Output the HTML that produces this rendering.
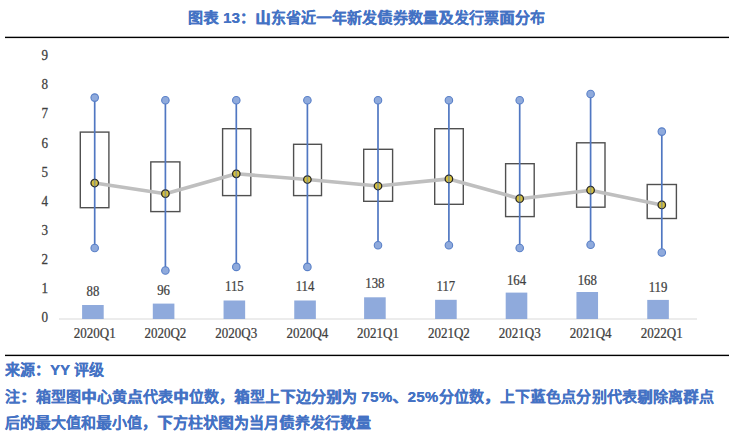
<!DOCTYPE html>
<html lang="zh-CN"><head><meta charset="utf-8">
<style>
html,body{margin:0;padding:0;background:#fff;}
body{width:736px;height:437px;overflow:hidden;position:relative;font-family:"Liberation Sans",sans-serif;}
svg{position:absolute;left:0;top:0;}
.yl,.bl,.xl{font-family:"Liberation Serif",serif;fill:#404040;text-anchor:middle;stroke:#404040;stroke-width:0.25px;}
.yl{font-size:13.5px;}
.bl{font-size:14.2px;}
.xl{font-size:14px;}
.t{position:absolute;white-space:nowrap;color:#4472C4;font-weight:bold;font-size:15px;line-height:15px;text-shadow:0.25px 0 0 #4472C4;}
</style></head><body>
<svg width="736" height="437" viewBox="0 0 736 437">
<rect x="5" y="36.7" width="724" height="1.4" fill="#000"/>
<rect x="5" y="354.7" width="724" height="1.4" fill="#000"/>
<rect x="59" y="318.5" width="638" height="1" fill="#D9D9D9"/>
<text transform="translate(44.8 322.10) scale(0.97 1.04)" class="yl">0</text>
<text transform="translate(44.8 293.01) scale(0.97 1.04)" class="yl">1</text>
<text transform="translate(44.8 263.92) scale(0.97 1.04)" class="yl">2</text>
<text transform="translate(44.8 234.83) scale(0.97 1.04)" class="yl">3</text>
<text transform="translate(44.8 205.74) scale(0.97 1.04)" class="yl">4</text>
<text transform="translate(44.8 176.65) scale(0.97 1.04)" class="yl">5</text>
<text transform="translate(44.8 147.56) scale(0.97 1.04)" class="yl">6</text>
<text transform="translate(44.8 118.47) scale(0.97 1.04)" class="yl">7</text>
<text transform="translate(44.8 89.38) scale(0.97 1.04)" class="yl">8</text>
<text transform="translate(44.8 60.29) scale(0.97 1.04)" class="yl">9</text>
<rect x="82.10" y="305.0" width="21.6" height="14.0" fill="#8FAADC"/>
<text transform="translate(92.90 295.70) scale(0.9 1)" class="bl">88</text>
<text transform="translate(94.70 338.0) scale(0.93 1)" class="xl">2020Q1</text>
<rect x="152.80" y="303.6" width="21.6" height="15.4" fill="#8FAADC"/>
<text transform="translate(163.60 294.60) scale(0.9 1)" class="bl">96</text>
<text transform="translate(165.40 338.0) scale(0.93 1)" class="xl">2020Q2</text>
<rect x="223.55" y="300.5" width="21.6" height="18.5" fill="#8FAADC"/>
<text transform="translate(234.35 291.00) scale(0.9 1)" class="bl">115</text>
<text transform="translate(236.30 338.0) scale(0.93 1)" class="xl">2020Q3</text>
<rect x="294.25" y="300.5" width="21.6" height="18.5" fill="#8FAADC"/>
<text transform="translate(305.05 291.00) scale(0.9 1)" class="bl">114</text>
<text transform="translate(307.40 338.0) scale(0.93 1)" class="xl">2020Q4</text>
<rect x="364.10" y="297.3" width="21.6" height="21.7" fill="#8FAADC"/>
<text transform="translate(374.90 287.80) scale(0.9 1)" class="bl">138</text>
<text transform="translate(378.00 338.0) scale(0.93 1)" class="xl">2021Q1</text>
<rect x="435.10" y="299.8" width="21.6" height="19.2" fill="#8FAADC"/>
<text transform="translate(445.90 291.20) scale(0.9 1)" class="bl">117</text>
<text transform="translate(448.90 338.0) scale(0.93 1)" class="xl">2021Q2</text>
<rect x="505.70" y="292.6" width="21.6" height="26.4" fill="#8FAADC"/>
<text transform="translate(516.50 285.20) scale(0.9 1)" class="bl">164</text>
<text transform="translate(519.70 338.0) scale(0.93 1)" class="xl">2021Q3</text>
<rect x="576.45" y="292.0" width="21.6" height="27.0" fill="#8FAADC"/>
<text transform="translate(587.25 285.00) scale(0.9 1)" class="bl">168</text>
<text transform="translate(590.60 338.0) scale(0.93 1)" class="xl">2021Q4</text>
<rect x="647.25" y="299.9" width="21.6" height="19.1" fill="#8FAADC"/>
<text transform="translate(658.05 291.80) scale(0.9 1)" class="bl">119</text>
<text transform="translate(661.80 338.0) scale(0.93 1)" class="xl">2022Q1</text>
<rect x="80.3" y="132.1" width="28.6" height="75.6" fill="none" stroke="#505050" stroke-width="1.4"/>
<rect x="150.8" y="161.9" width="29.1" height="49.7" fill="none" stroke="#505050" stroke-width="1.4"/>
<rect x="222.6" y="128.7" width="28.2" height="66.9" fill="none" stroke="#505050" stroke-width="1.4"/>
<rect x="293.6" y="144.3" width="27.9" height="51.3" fill="none" stroke="#505050" stroke-width="1.4"/>
<rect x="363.7" y="149.3" width="28.9" height="52.0" fill="none" stroke="#505050" stroke-width="1.4"/>
<rect x="434.7" y="128.7" width="28.6" height="75.6" fill="none" stroke="#505050" stroke-width="1.4"/>
<rect x="505.6" y="163.7" width="28.6" height="52.9" fill="none" stroke="#505050" stroke-width="1.4"/>
<rect x="576.6" y="142.8" width="28.4" height="64.4" fill="none" stroke="#505050" stroke-width="1.4"/>
<rect x="647.2" y="184.5" width="29.2" height="34.0" fill="none" stroke="#505050" stroke-width="1.4"/>
<polyline points="94.7,183.0 165.4,193.7 236.3,173.8 307.4,179.5 378.0,186.0 448.9,178.9 519.7,198.7 590.6,190.2 661.8,204.9" fill="none" stroke="#BFBFBF" stroke-width="3.6" stroke-linejoin="round"/>
<line x1="94.7" y1="97.6" x2="94.7" y2="248.0" stroke="#5077C2" stroke-width="1.7"/>
<line x1="165.4" y1="100.2" x2="165.4" y2="270.5" stroke="#5077C2" stroke-width="1.7"/>
<line x1="236.3" y1="100.2" x2="236.3" y2="266.9" stroke="#5077C2" stroke-width="1.7"/>
<line x1="307.4" y1="100.2" x2="307.4" y2="266.9" stroke="#5077C2" stroke-width="1.7"/>
<line x1="378.0" y1="100.2" x2="378.0" y2="245.3" stroke="#5077C2" stroke-width="1.7"/>
<line x1="448.9" y1="100.2" x2="448.9" y2="245.3" stroke="#5077C2" stroke-width="1.7"/>
<line x1="519.7" y1="100.2" x2="519.7" y2="248.0" stroke="#5077C2" stroke-width="1.7"/>
<line x1="590.6" y1="94.0" x2="590.6" y2="244.8" stroke="#5077C2" stroke-width="1.7"/>
<line x1="661.8" y1="131.6" x2="661.8" y2="252.5" stroke="#5077C2" stroke-width="1.7"/>
<circle cx="94.7" cy="183.0" r="3.75" fill="#D6C03C" stroke="#262626" stroke-width="1.25"/>
<line x1="94.7" y1="178.6" x2="94.7" y2="187.4" stroke="#5077C2" stroke-opacity="0.5" stroke-width="1.7"/>
<circle cx="165.4" cy="193.7" r="3.75" fill="#D6C03C" stroke="#262626" stroke-width="1.25"/>
<line x1="165.4" y1="189.3" x2="165.4" y2="198.1" stroke="#5077C2" stroke-opacity="0.5" stroke-width="1.7"/>
<circle cx="236.3" cy="173.8" r="3.75" fill="#D6C03C" stroke="#262626" stroke-width="1.25"/>
<line x1="236.3" y1="169.4" x2="236.3" y2="178.2" stroke="#5077C2" stroke-opacity="0.5" stroke-width="1.7"/>
<circle cx="307.4" cy="179.5" r="3.75" fill="#D6C03C" stroke="#262626" stroke-width="1.25"/>
<line x1="307.4" y1="175.1" x2="307.4" y2="183.9" stroke="#5077C2" stroke-opacity="0.5" stroke-width="1.7"/>
<circle cx="378.0" cy="186.0" r="3.75" fill="#D6C03C" stroke="#262626" stroke-width="1.25"/>
<line x1="378.0" y1="181.6" x2="378.0" y2="190.4" stroke="#5077C2" stroke-opacity="0.5" stroke-width="1.7"/>
<circle cx="448.9" cy="178.9" r="3.75" fill="#D6C03C" stroke="#262626" stroke-width="1.25"/>
<line x1="448.9" y1="174.5" x2="448.9" y2="183.3" stroke="#5077C2" stroke-opacity="0.5" stroke-width="1.7"/>
<circle cx="519.7" cy="198.7" r="3.75" fill="#D6C03C" stroke="#262626" stroke-width="1.25"/>
<line x1="519.7" y1="194.3" x2="519.7" y2="203.1" stroke="#5077C2" stroke-opacity="0.5" stroke-width="1.7"/>
<circle cx="590.6" cy="190.2" r="3.75" fill="#D6C03C" stroke="#262626" stroke-width="1.25"/>
<line x1="590.6" y1="185.8" x2="590.6" y2="194.6" stroke="#5077C2" stroke-opacity="0.5" stroke-width="1.7"/>
<circle cx="661.8" cy="204.9" r="3.75" fill="#D6C03C" stroke="#262626" stroke-width="1.25"/>
<line x1="661.8" y1="200.5" x2="661.8" y2="209.3" stroke="#5077C2" stroke-opacity="0.5" stroke-width="1.7"/>
<circle cx="94.7" cy="97.6" r="3.75" fill="#8FAADC" stroke="#5A80C8" stroke-width="1.1"/>
<circle cx="94.7" cy="248.0" r="3.75" fill="#8FAADC" stroke="#5A80C8" stroke-width="1.1"/>
<circle cx="165.4" cy="100.2" r="3.75" fill="#8FAADC" stroke="#5A80C8" stroke-width="1.1"/>
<circle cx="165.4" cy="270.5" r="3.75" fill="#8FAADC" stroke="#5A80C8" stroke-width="1.1"/>
<circle cx="236.3" cy="100.2" r="3.75" fill="#8FAADC" stroke="#5A80C8" stroke-width="1.1"/>
<circle cx="236.3" cy="266.9" r="3.75" fill="#8FAADC" stroke="#5A80C8" stroke-width="1.1"/>
<circle cx="307.4" cy="100.2" r="3.75" fill="#8FAADC" stroke="#5A80C8" stroke-width="1.1"/>
<circle cx="307.4" cy="266.9" r="3.75" fill="#8FAADC" stroke="#5A80C8" stroke-width="1.1"/>
<circle cx="378.0" cy="100.2" r="3.75" fill="#8FAADC" stroke="#5A80C8" stroke-width="1.1"/>
<circle cx="378.0" cy="245.3" r="3.75" fill="#8FAADC" stroke="#5A80C8" stroke-width="1.1"/>
<circle cx="448.9" cy="100.2" r="3.75" fill="#8FAADC" stroke="#5A80C8" stroke-width="1.1"/>
<circle cx="448.9" cy="245.3" r="3.75" fill="#8FAADC" stroke="#5A80C8" stroke-width="1.1"/>
<circle cx="519.7" cy="100.2" r="3.75" fill="#8FAADC" stroke="#5A80C8" stroke-width="1.1"/>
<circle cx="519.7" cy="248.0" r="3.75" fill="#8FAADC" stroke="#5A80C8" stroke-width="1.1"/>
<circle cx="590.6" cy="94.0" r="3.75" fill="#8FAADC" stroke="#5A80C8" stroke-width="1.1"/>
<circle cx="590.6" cy="244.8" r="3.75" fill="#8FAADC" stroke="#5A80C8" stroke-width="1.1"/>
<circle cx="661.8" cy="131.6" r="3.75" fill="#8FAADC" stroke="#5A80C8" stroke-width="1.1"/>
<circle cx="661.8" cy="252.5" r="3.75" fill="#8FAADC" stroke="#5A80C8" stroke-width="1.1"/>
</svg>
<div class="t" id="title" style="left:188px;top:10px;letter-spacing:0.25px;">图表 13：山东省近一年新发债券数量及发行票面分布</div>
<div class="t" id="f1" style="left:5px;top:362px;">来源：YY 评级</div>
<div class="t" id="f2" style="left:5px;top:388.5px;letter-spacing:0.3px;">注：箱型图中心黄点代表中位数，箱型上下边分别为 75%、25%分位数，上下蓝色点分别代表剔除离群点</div>
<div class="t" id="f3" style="left:5px;top:414.5px;letter-spacing:0.24px;">后的最大值和最小值，下方柱状图为当月债养发行数量</div>
</body></html>
